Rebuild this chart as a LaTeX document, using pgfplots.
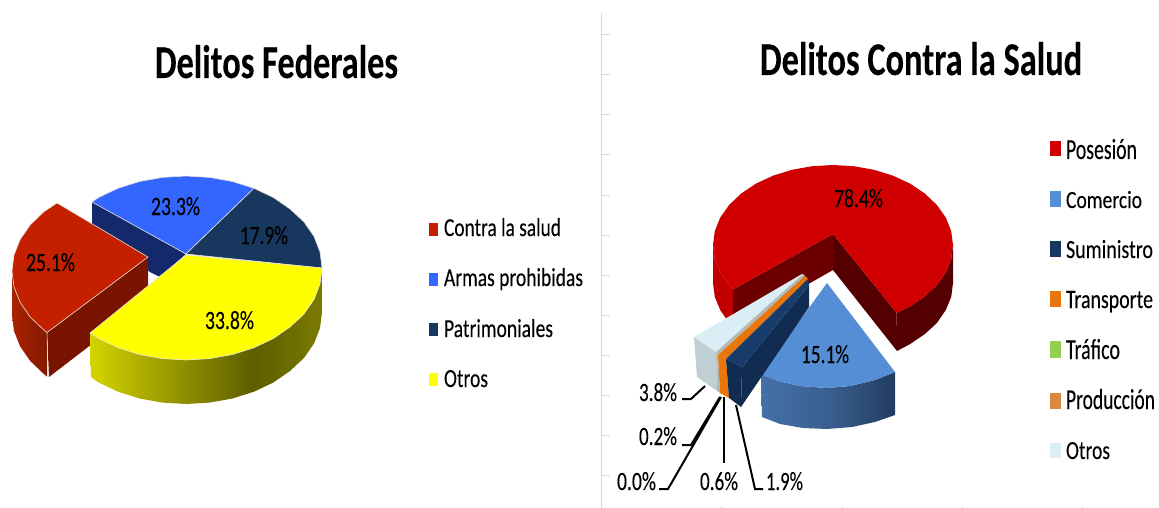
\documentclass[border=0pt]{standalone}
\usepackage{graphicx}
\usepackage{fontspec}
\setmainfont{Carlito}[FakeBold=0.15]
\usepackage{pgfplots}
\pgfplotsset{compat=1.18}
\definecolor{frame}{HTML}{D0D6E4}
\definecolor{yside1}{HTML}{D4D400}
\definecolor{yside2}{HTML}{A0A000}
\definecolor{yside3}{HTML}{5E5E00}
\definecolor{yside4}{HTML}{7A7A00}
\definecolor{bside1}{HTML}{4470A8}
\definecolor{bside2}{HTML}{3A5F8F}
\definecolor{bside3}{HTML}{223C60}
\definecolor{rside1}{HTML}{841A00}
\definecolor{rside2}{HTML}{A82200}
\definecolor{navy}{HTML}{17375E}
\definecolor{navyside}{HTML}{14296B}
\definecolor{navydark}{HTML}{102C50}
\definecolor{navytop}{HTML}{173C6C}
\definecolor{lblue}{HTML}{3366FF}
\definecolor{lred}{HTML}{C42000}
\definecolor{lredcut}{HTML}{781400}
\definecolor{lyel}{HTML}{FFFF00}
\definecolor{rred}{HTML}{D00000}
\definecolor{rredo}{HTML}{C00000}
\definecolor{rcut1}{HTML}{6C0000}
\definecolor{rcut2}{HTML}{540000}
\definecolor{rblue}{HTML}{558ED5}
\definecolor{rorange}{HTML}{E8760A}
\definecolor{rgreen}{HTML}{92D050}
\definecolor{rprod}{HTML}{DD8840}
\definecolor{rgray}{HTML}{B4BAB6}
\definecolor{rotros}{HTML}{DCEEF5}
\definecolor{rotrosf}{HTML}{BFD0D4}
\definecolor{edge}{HTML}{E8E0D8}
\pgfdeclarehorizontalshading{oliveside}{100bp}{color(0bp)=(yside1); color(25bp)=(yside1); color(40bp)=(yside2); color(60bp)=(yside3); color(75bp)=(yside4); color(100bp)=(yside4)}
\pgfdeclarehorizontalshading{blueside}{100bp}{color(0bp)=(bside1); color(25bp)=(bside1); color(50bp)=(bside2); color(75bp)=(bside3); color(100bp)=(bside3)}
\pgfdeclarehorizontalshading{redside}{100bp}{color(0bp)=(rside2); color(25bp)=(rside2); color(75bp)=(rside1); color(100bp)=(rside1)}
\newcommand{\lbl}[5]{\node[anchor=base west,inner sep=0pt,outer sep=0pt] at (axis cs:#1,#2) {\resizebox{#3pt}{#4pt}{#5}};}
\newcommand{\sq}[5]{\addplot[fill=#5,draw=none] coordinates {(#1,#3)(#2,#3)(#2,#4)(#1,#4)} -- cycle;}
\begin{document}
\begin{tikzpicture}
\useasboundingbox (0,0) rectangle (1159pt,508pt);
\begin{axis}[at={(0,0)},anchor=south west,scale only axis,width=1159pt,height=508pt,
  xmin=0,xmax=1159,ymin=0,ymax=508,y dir=reverse,hide axis,clip=false]
% frame of the second chart
\addplot[color=frame,line width=1pt] coordinates {(601,13)(601,508)};
\pgfplotsinvokeforeach{35,75,115,155,195,235,275,315,355,395,435,475}{
  \addplot[color=frame,line width=1pt] coordinates {(601,#1)(610,#1)};
}
\pgfplotsinvokeforeach{721,842,962,1082}{
  \addplot[color=frame,line width=1pt] coordinates {(#1,506)(#1,508)};
}
% ---------- Delitos Federales ----------
\addplot[fill=navyside,draw=none] coordinates {(92,202)(186,254)(160,277)(150,272)(92,225)} -- cycle;
% blue top
\addplot[fill=lblue,draw=edge,line width=.6pt] coordinates {(186,254)(92,202)(98.6,197.5)(118,188.3)(139.5,181.5)(162.4,177.4)(186,176)(209.6,177.4)(232.5,181.5)(254,188.3)} -- cycle;
% navy top
\addplot[fill=navy,draw=edge,line width=.6pt] coordinates {(186,254)(254,188.3)(273.4,197.5)(290,209)(304,222)(314,236.5)(320,252)(322,268)} -- cycle;
% red side
\addplot[shading=redside,draw=none] coordinates {(12,271)(14,287)(20.2,302.5)(30.2,317)(43.8,330)(47,332.5)(47,376.5)(43.8,374)(30.2,361)(20.2,346.5)(14,331)(12,315)} -- cycle;
\addplot[fill=lredcut,draw=none] coordinates {(148,257)(47,332.5)(49,377)(148,301)} -- cycle;
\addplot[draw=edge,line width=.6pt] coordinates {(47,332.5)(48,376)};
% red top
\addplot[fill=lred,draw=edge,line width=.6pt] coordinates {(148,257)(57,203)(43.8,211.8)(30.2,225)(20.2,239.5)(14,255)(12,271)(14,287)(20.2,302.5)(30.2,317)(43.8,330)(47,332.5)} -- cycle;
% yellow side
\addplot[shading=oliveside,draw=none] coordinates {(322,268)(320,284)(314,299.5)(304,314)(290,327)(273.4,338.5)(254,347.7)(232.5,354.5)(209.6,358.6)(186,360)(162.4,358.6)(139.5,354.5)(118,347.7)(98.6,338.5)(90,333)(91,377)(98.6,382.5)(118,391.7)(139.5,398.5)(162.4,402.6)(186,404)(209.6,402.6)(232.5,398.5)(254,391.7)(273.4,382.5)(290,371)(304,358)(314,343.5)(320,328)(322,312)} -- cycle;
% yellow top
\addplot[fill=lyel,draw=edge,line width=.6pt] coordinates {(186,255)(322,268)(320,284)(314,299.5)(304,314)(290,327)(273.4,338.5)(254,347.7)(232.5,354.5)(209.6,358.6)(186,360)(162.4,358.6)(139.5,354.5)(118,347.7)(98.6,338.5)(90,333)} -- cycle;
% ---------- Delitos Contra la Salud ----------
% red outer sides
\addplot[fill=rredo,draw=none] coordinates {(713,245)(714.8,258.9)(720.2,272.4)(729.1,285)(733,289.4)(733,327)(729.1,323)(720.2,310)(714.8,297)(713,283)} -- cycle;
\addplot[fill=rcut2,draw=none] coordinates {(953,245)(951.2,258.9)(945.8,272.4)(936.9,285)(924.9,296.4)(910.2,306.3)(896.6,312.8)(897,351)(910.2,344)(924.9,334)(936.9,323)(945.8,310)(951.2,297)(953,283)} -- cycle;
% cut faces
\addplot[fill=rcut1,draw=none] coordinates {(833,234)(733,289.4)(733,327)(833,270)} -- cycle;
\addplot[fill=rcut2,draw=none] coordinates {(833,234)(896.6,312.8)(897,351)(833,270)} -- cycle;
% red top
\addplot[fill=rred,draw=none] coordinates {(833,234)(896.6,312.8)(910.2,306.3)(924.9,296.4)(936.9,285)(945.8,272.4)(951.2,258.9)(953,245)(951.2,231.1)(945.8,217.6)(936.9,205)(924.9,193.6)(910.2,183.7)(893,175.7)(874,169.8)(853.8,166.2)(833,165)(812.2,166.2)(792,169.8)(773,175.7)(755.8,183.7)(741.1,193.6)(729.1,205)(720.2,217.6)(714.8,231.1)(713,245)(714.8,258.9)(720.2,272.4)(729.1,285)(733,289.4)} -- cycle;
% blue slice
\addplot[shading=blueside,draw=none] coordinates {(761,374)(778,381)(800,386)(827,388)(850,386)(875,380)(895,372)(895,415)(875,422)(852,427)(827,429)(803,428)(780,424)(762,417)} -- cycle;
\addplot[fill=rblue,draw=none] coordinates {(827,283)(895,372)(875,380)(850,386)(827,388)(800,386)(778,381)(761,374)} -- cycle;
% otros slice
\addplot[fill=rotrosf,draw=none] coordinates {(694,337)(697,377)(717,391)(716,352)} -- cycle;
\addplot[fill=rotros,draw=none] coordinates {(802,274)(694,337)(716,352)(803,276)} -- cycle;
\addplot[fill=rgray,draw=none] coordinates {(803,274)(716,352)(718,355)(805,276)} -- cycle;
\addplot[fill=rgray,draw=none] coordinates {(716,352)(718,355)(720,393)(717,391)} -- cycle;
% orange slice
\addplot[fill=rorange,draw=none] coordinates {(805,276)(718,355)(726,359)(808,279)} -- cycle;
\addplot[fill=rorange,draw=none] coordinates {(718,355)(720,393)(729,398)(726,359)} -- cycle;
% navy slice
\addplot[fill=navydark,draw=none] coordinates {(809,285)(809,307)(741,407)(742,367)} -- cycle;
\addplot[fill=navydark,draw=none] coordinates {(726,359)(742,367)(741,407)(729,398)} -- cycle;
\addplot[fill=navytop,draw=none] coordinates {(808,279)(809,285)(742,367)(726,359)} -- cycle;
% leaders
\addplot[black,line width=2pt] coordinates {(682,399)(691,399)(705,386)};
\addplot[black,line width=2pt] coordinates {(682,445)(691,445)(720,397)};
\addplot[black,line width=2pt] coordinates {(659,489)(668,489)(721,397)};
\addplot[black,line width=2pt] coordinates {(724,397)(724,463)};
\addplot[black,line width=2pt] coordinates {(763,489)(755,489)(736,405)};
% legend keys
\sq{429}{438}{223}{236}{lred}
\sq{429}{438}{273}{286}{lblue}
\sq{429}{438}{323}{336}{navy}
\sq{429}{438}{373}{386}{lyel}
\sq{1050}{1061}{141}{156}{rred}
\sq{1050}{1061}{191}{207}{rblue}
\sq{1050}{1061}{241}{257}{navy}
\sq{1050}{1061}{291}{307}{rorange}
\sq{1050}{1061}{341}{358}{rgreen}
\sq{1050}{1061}{393}{409}{rprod}
\sq{1050}{1061}{443}{458}{rotros}
% titles
\lbl{155}{78}{243}{33}{\bfseries Delitos Federales}
\lbl{760}{75}{322}{33}{\bfseries Delitos Contra la Salud}
% data labels
\lbl{151}{215}{49}{18}{23.3\%}
\lbl{240}{244}{48}{18}{17.9\%}
\lbl{26}{271}{49}{18}{25.1\%}
\lbl{205}{329}{49}{18}{33.8\%}
\lbl{834}{207}{49}{18}{78.4\%}
\lbl{801}{363}{48}{18}{15.1\%}
\lbl{639}{401}{38}{18}{3.8\%}
\lbl{639}{445}{38}{18}{0.2\%}
\lbl{617}{490}{39}{18}{0.0\%}
\lbl{700}{490}{38}{18}{0.6\%}
\lbl{766}{490}{37}{18}{1.9\%}
% legend text
\lbl{444}{236}{117}{18}{Contra la salud}
\lbl{444}{286}{139}{18}{Armas prohibidas}
\lbl{444}{337}{109}{18}{Patrimoniales}
\lbl{444}{387}{44}{17}{Otros}
\lbl{1066}{159}{71}{20}{Posesión}
\lbl{1066}{208}{76}{17}{Comercio}
\lbl{1066}{258}{87}{18}{Suministro}
\lbl{1066}{308}{87}{17}{Transporte}
\lbl{1066}{359}{54}{20}{Tráfico}
\lbl{1066}{409}{89}{20}{Producción}
\lbl{1066}{459}{44}{17}{Otros}
\end{axis}
\end{tikzpicture}
\end{document}
